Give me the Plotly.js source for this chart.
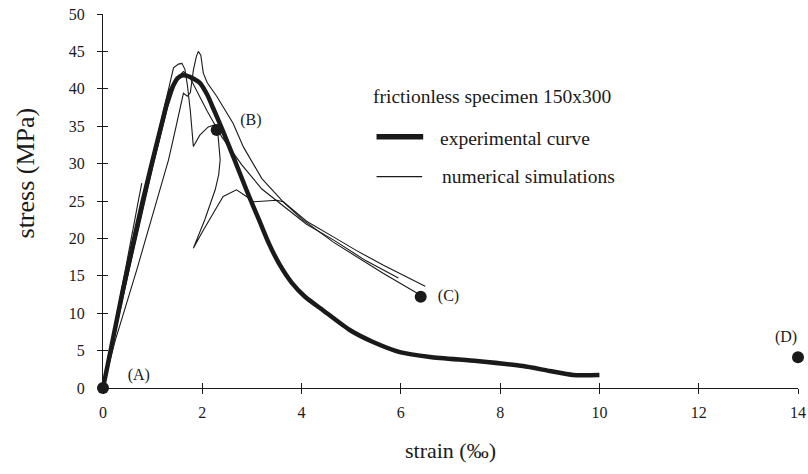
<!DOCTYPE html>
<html>
<head>
<meta charset="utf-8">
<script src="https://cdn.plot.ly/plotly-3.0.1.min.js"></script>
<style>html,body{margin:0;padding:0;background:#fff;}#chart{width:808px;height:474px;}</style>
</head>
<body>
<div id="chart"></div>
<script>
// Experimental curve (thick)
const expStrain = [0, 0.4, 0.8, 1.2, 1.35, 1.5, 1.61, 1.75, 1.95, 2.1, 2.22, 2.4, 2.62, 2.9, 3.16, 3.35, 3.55, 3.8, 4.07, 4.43, 4.97, 5.44, 5.98, 6.59, 7.53, 8.46, 9.0, 9.47, 10.0];
const expStress = [0, 13.1, 25, 35.8, 39.5, 41.4, 41.8, 41.6, 40.8, 39.2, 37.4, 34.6, 31.0, 26.3, 22.2, 19.2, 16.6, 14.1, 12.2, 10.4, 7.75, 6.15, 4.8, 4.15, 3.6, 2.94, 2.27, 1.74, 1.74];

// Numerical simulations (thin)
const simAStrain = [0, 0.4, 0.78];
const simAStress = [0, 14, 27.4];

const simBStrain = [0, 0.4, 0.8, 1.2, 1.42, 1.52, 1.59, 1.65, 1.70, 1.76, 1.82, 1.95, 2.12, 2.26, 2.32, 2.36, 2.33, 2.26, 2.05, 1.82, 2.02, 2.42, 2.69, 2.89, 3.03, 3.5, 3.63, 4.0, 4.64, 5.65, 6.4];
const simBStress = [0, 12.8, 25.5, 36.5, 42.8, 43.3, 43.4, 42.6, 40.5, 37.0, 32.3, 33.8, 34.9, 35.2, 33.6, 30.5, 28.5, 26.5, 22.5, 18.7, 21.1, 25.6, 26.5, 25.6, 24.9, 25.1, 24.9, 22.6, 19.5, 15.3, 12.4];

const simCStrain = [0, 0.24, 0.68, 1.0, 1.32, 1.45, 1.55, 1.62, 1.70, 1.76, 1.82, 1.88, 1.92, 1.97, 2.02, 2.1, 2.29, 2.62, 2.83, 3.2, 3.63, 4.1, 4.64, 5.1, 5.65, 6.49];
const simCStress = [0, 6.2, 15.8, 23.2, 30.5, 34.3, 37.4, 39.4, 39.0, 39.5, 42.5, 44.3, 45.0, 44.5, 42.1, 40.8, 39.0, 35.4, 32.2, 28.0, 24.9, 22.3, 20.2, 18.4, 16.4, 13.6];

const simDStrain = [0, 0.5, 1.0, 1.3, 1.5, 1.62, 1.75, 1.9, 2.1, 2.4, 2.8, 3.2, 3.63, 4.1, 4.64, 5.3, 5.95];
const simDStress = [0, 15, 29.5, 37.5, 41.5, 42.3, 41.5, 39.5, 37.0, 33.5, 29.8, 26.6, 24.4, 21.9, 19.8, 17.0, 14.7];

// Marked points
const ptStrain = [0, 2.29, 6.4, 14];
const ptStress = [0, 34.5, 12.2, 4.1];
const ptLabels = ['(A)', '(B)', '(C)', '(D)'];
const lblStrain = [0.72, 2.98, 6.96, 13.76];
const lblStress = [1.6, 35.7, 12.2, 6.7];

const xTicks = [0, 2, 4, 6, 8, 10, 12, 14];
const yTicks = [0, 5, 10, 15, 20, 25, 30, 35, 40, 45, 50];

const INK = '#1a1a1a';
const FONT = "'Liberation Serif', 'Times New Roman', serif";

const thin = {color: INK, width: 1.1};
const traces = [
  {x: simAStrain, y: simAStress, mode: 'lines', line: thin, hoverinfo: 'skip'},
  {x: simBStrain, y: simBStress, mode: 'lines', line: thin, hoverinfo: 'skip'},
  {x: simCStrain, y: simCStress, mode: 'lines', line: thin, hoverinfo: 'skip'},
  {x: simDStrain, y: simDStress, mode: 'lines', line: thin, hoverinfo: 'skip'},
  {x: expStrain, y: expStress, mode: 'lines', line: {color: INK, width: 4.5, shape: 'spline', smoothing: 0.6}, hoverinfo: 'skip'},
  {x: ptStrain, y: ptStress, mode: 'markers', marker: {color: INK, size: 12}, cliponaxis: false, hoverinfo: 'skip'},
  {x: lblStrain, y: lblStress, mode: 'text', text: ptLabels, textposition: 'middle center',
   textfont: {family: FONT, size: 16, color: INK}, cliponaxis: false, hoverinfo: 'skip'},
  // invisible trace to activate overlay axes
  {x: [0], y: [0], xaxis: 'x2', yaxis: 'y2', mode: 'markers', marker: {opacity: 0}, hoverinfo: 'skip'}
];

const axisCommon = {
  showgrid: false, zeroline: false, showline: true, linecolor: INK, linewidth: 1,
  ticks: 'outside', ticklen: 5, tickwidth: 1, tickcolor: INK,
  tickfont: {family: FONT, size: 16, color: INK}
};

const layout = {
  width: 808, height: 474,
  margin: {l: 103, r: 10, t: 14, b: 86},
  paper_bgcolor: '#fff', plot_bgcolor: '#fff',
  showlegend: false,
  font: {family: FONT, color: INK},
  xaxis: Object.assign({}, axisCommon, {
    range: [0, 14], tickvals: xTicks, ticktext: xTicks.map(String),
    ticklabelstandoff: 5,
    title: {text: 'strain (‰)', font: {family: FONT, size: 22, color: INK}, standoff: 22}
  }),
  yaxis: Object.assign({}, axisCommon, {
    range: [0, 50], tickvals: yTicks, ticktext: yTicks.map(String),
    ticklabelstandoff: 9
  }),
  xaxis2: {overlaying: 'x', range: [0, 14], tickvals: xTicks, showticklabels: false, ticks: 'inside', ticklen: 5,
           tickcolor: INK, showgrid: false, zeroline: false, showline: false, side: 'bottom'},
  yaxis2: {overlaying: 'y', range: [0, 50], tickvals: yTicks, showticklabels: false, ticks: 'inside', ticklen: 5,
           tickcolor: INK, showgrid: false, zeroline: false, showline: false, side: 'left'},
  shapes: [
    {type: 'line', xref: 'x', yref: 'y', x0: 5.51, x1: 6.45, y0: 33.6, y1: 33.6, line: {color: INK, width: 5.5}},
    {type: 'line', xref: 'x', yref: 'y', x0: 5.51, x1: 6.43, y0: 28.25, y1: 28.25, line: {color: INK, width: 1.2}}
  ],
  annotations: [
    {xref: 'paper', yref: 'y', x: -0.112, y: 28.7, xanchor: 'center', yanchor: 'middle', textangle: -90, showarrow: false,
     text: 'stress (MPa)', font: {family: FONT, size: 26, color: INK}},
    {xref: 'x', yref: 'y', x: 5.40, y: 38.94, xanchor: 'left', yanchor: 'middle', showarrow: false,
     text: 'frictionless specimen 150x300', font: {family: FONT, size: 19.5, color: INK}},
    {xref: 'x', yref: 'y', x: 6.75, y: 33.4, xanchor: 'left', yanchor: 'middle', showarrow: false,
     text: 'experimental curve', font: {family: FONT, size: 19.5, color: INK}},
    {xref: 'x', yref: 'y', x: 6.79, y: 28.25, xanchor: 'left', yanchor: 'middle', showarrow: false,
     text: 'numerical simulations', font: {family: FONT, size: 19.5, color: INK}}
  ]
};

Plotly.newPlot('chart', traces, layout, {staticPlot: true, displayModeBar: false});
</script>
</body>
</html>
